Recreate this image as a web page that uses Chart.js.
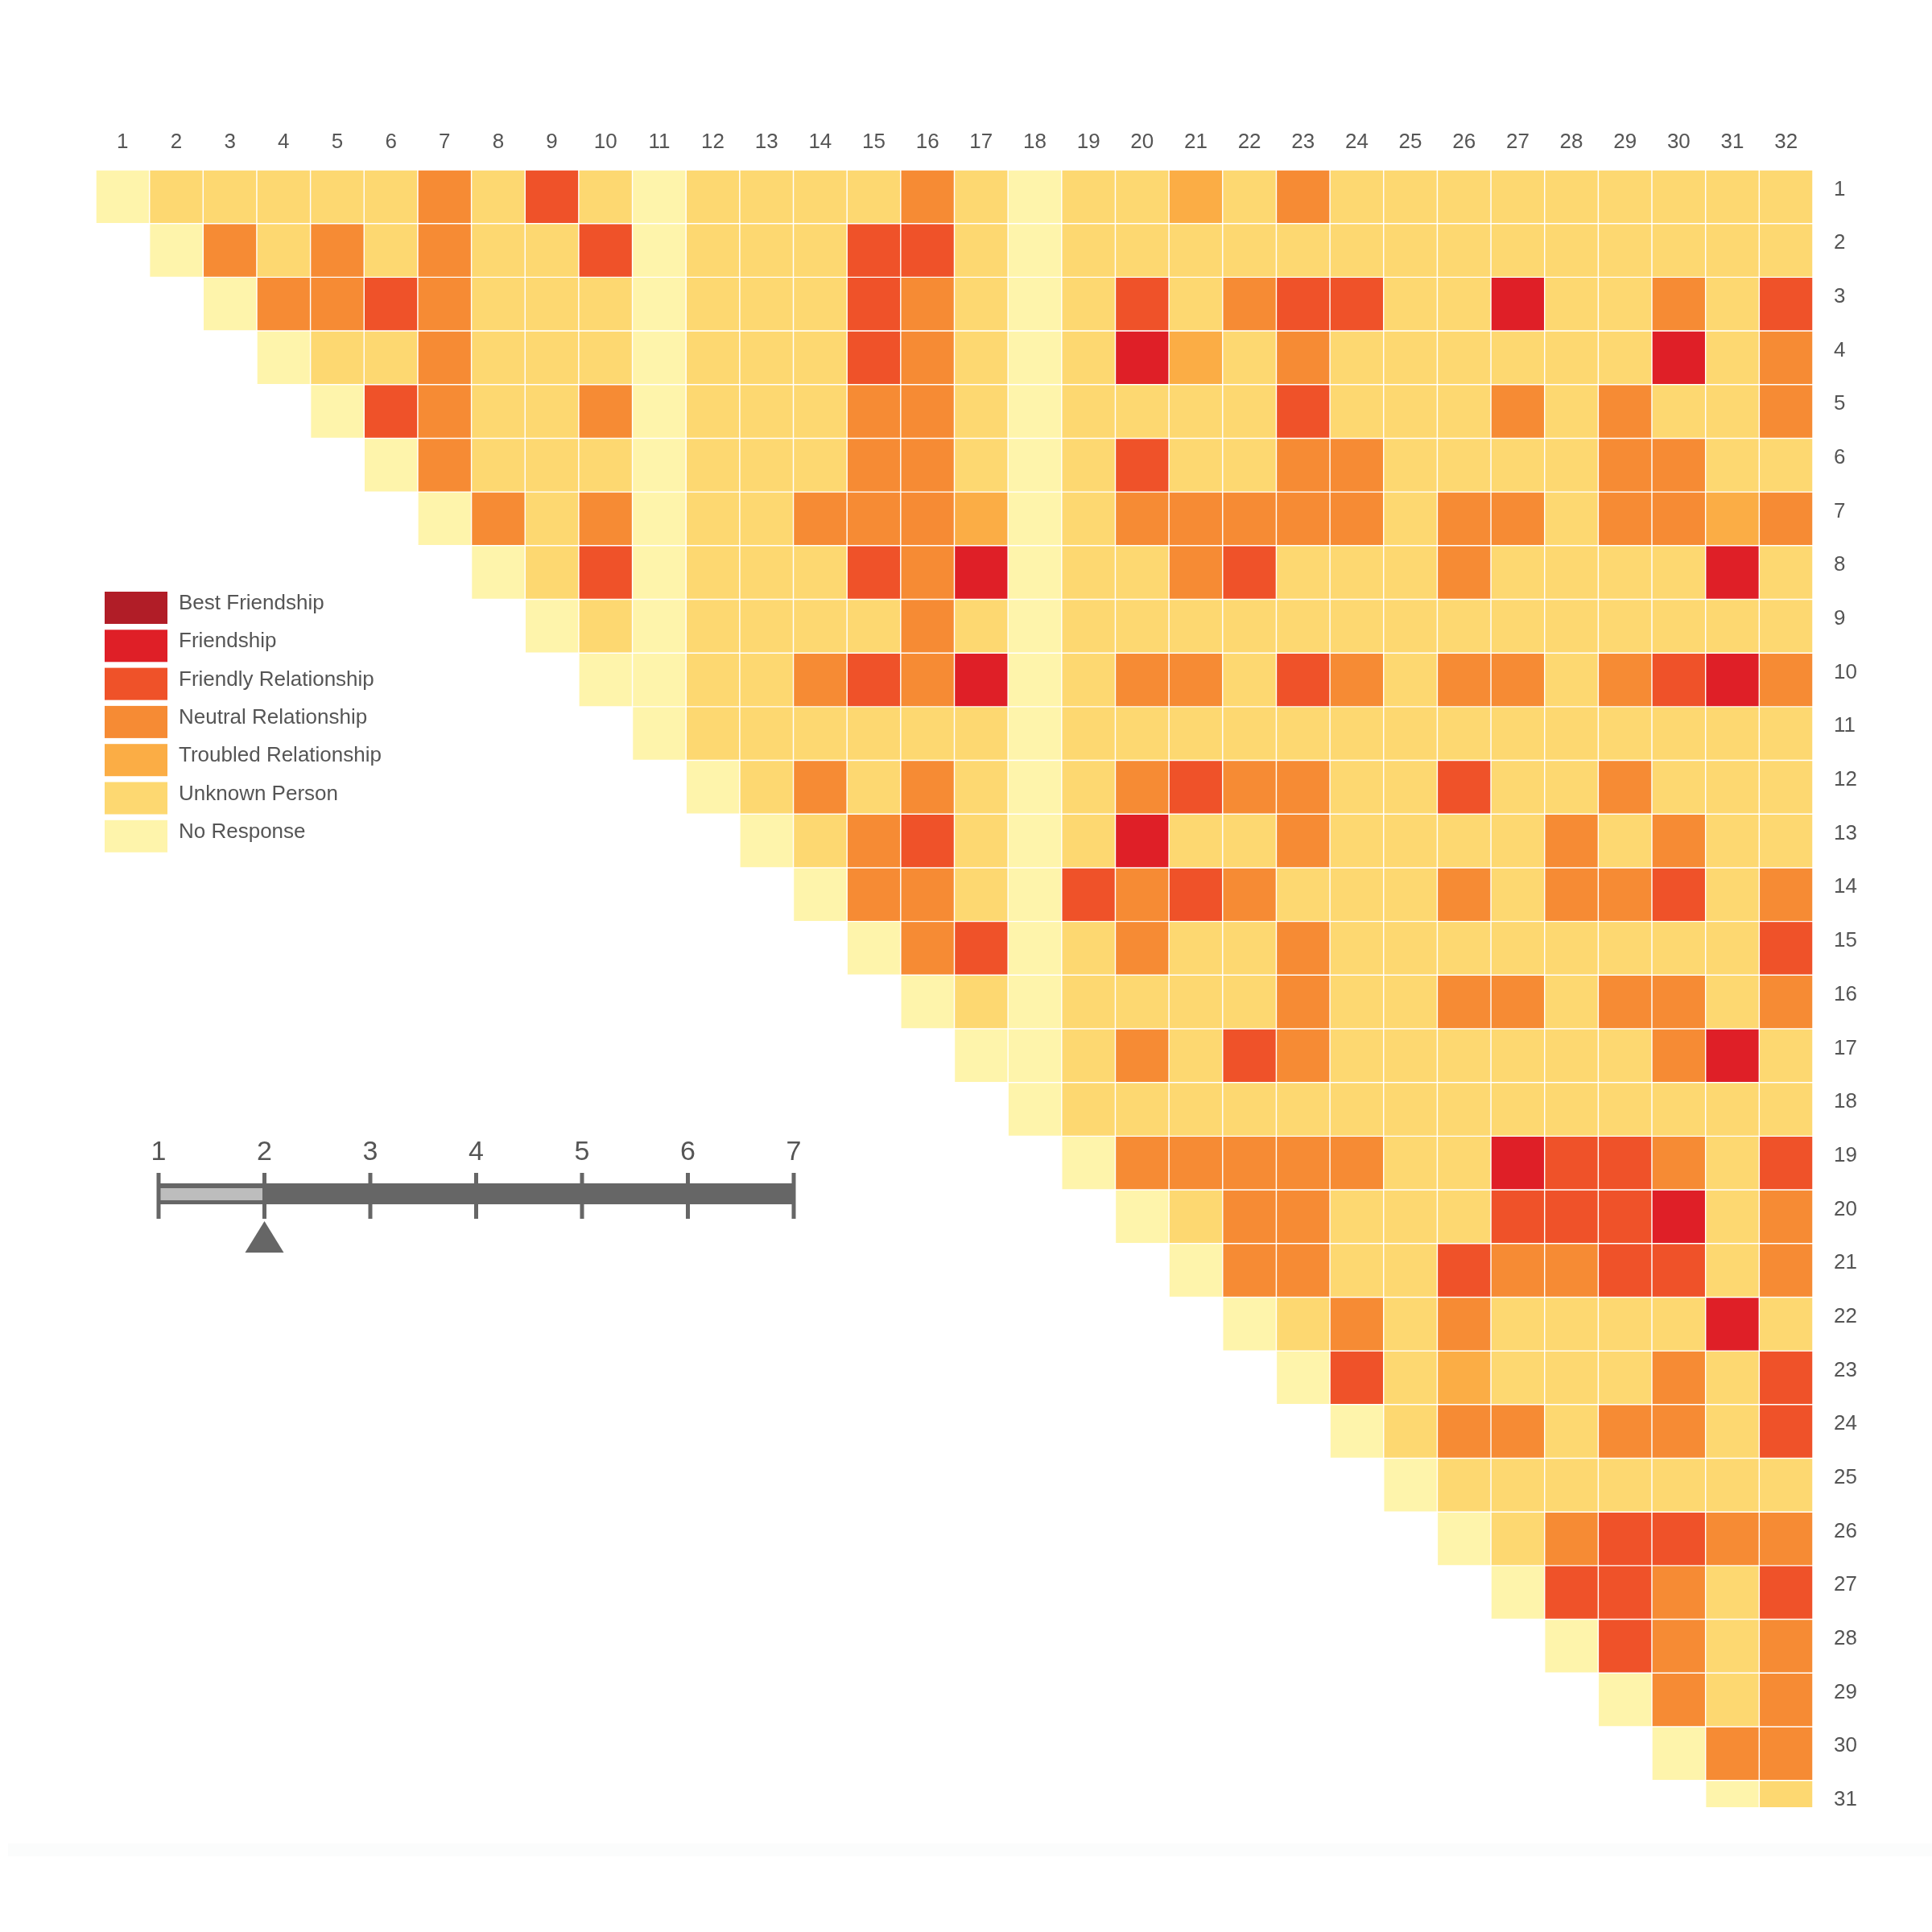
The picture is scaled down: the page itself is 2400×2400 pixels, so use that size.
<!DOCTYPE html>
<html>
<head>
<meta charset="utf-8">
<script src="https://cdn.jsdelivr.net/npm/chart.js@4/dist/chart.umd.min.js"></script>
<style>
  html, body { margin: 0; padding: 0; background: #ffffff; }
  #wrap { width: 2400px; height: 2400px; position: relative; }
</style>
</head>
<body>
<div id="wrap"><canvas id="c" width="2400" height="2400"></canvas></div>
<script>
// ---------------- DATA ----------------
const columnLabels = ['1','2','3','4','5','6','7','8','9','10','11','12','13','14','15','16',
                      '17','18','19','20','21','22','23','24','25','26','27','28','29','30','31','32'];
const rowLabels = ['1','2','3','4','5','6','7','8','9','10','11','12','13','14','15','16',
                   '17','18','19','20','21','22','23','24','25','26','27','28','29','30','31'];

// relationship level names (code 1..7) and their colours
const levelNames = ['No Response', 'Unknown Person', 'Troubled Relationship', 'Neutral Relationship',
                    'Friendly Relationship', 'Friendship', 'Best Friendship'];
const levelColors = ['#fef4ab', '#fdd871', '#fbad45', '#f68b34', '#ef5229', '#df1f27', '#b11d27'];
const legendOrder = [7, 6, 5, 4, 3, 2, 1];

// each row r lists codes for columns r..32
const relationRows = [
  [1,2,2,2,2,2,4,2,5,2, 1,2,2,2,2,4,2,1,2,2, 3,2,4,2,2,2,2,2,2,2,2,2],
  [1,4,2,4,2,4,2,2,5, 1,2,2,2,5,5,2,1,2,2, 2,2,2,2,2,2,2,2,2,2,2,2],
  [1,4,4,5,4,2,2,2, 1,2,2,2,5,4,2,1,2,5, 2,4,5,5,2,2,6,2,2,4,2,5],
  [1,2,2,4,2,2,2, 1,2,2,2,5,4,2,1,2,6, 3,2,4,2,2,2,2,2,2,6,2,4],
  [1,5,4,2,2,4, 1,2,2,2,4,4,2,1,2,2, 2,2,5,2,2,2,4,2,4,2,2,4],
  [1,4,2,2,2, 1,2,2,2,4,4,2,1,2,5, 2,2,4,4,2,2,2,2,4,4,2,2],
  [1,4,2,4, 1,2,2,4,4,4,3,1,2,4, 4,4,4,4,2,4,4,2,4,4,3,4],
  [1,2,5, 1,2,2,2,5,4,6,1,2,2, 4,5,2,2,2,4,2,2,2,2,6,2],
  [1,2, 1,2,2,2,2,4,2,1,2,2, 2,2,2,2,2,2,2,2,2,2,2,2],
  [1, 1,2,2,4,5,4,6,1,2,4, 4,2,5,4,2,4,4,2,4,5,6,4],
  [1,2,2,2,2,2,2,1,2,2, 2,2,2,2,2,2,2,2,2,2,2,2],
  [1,2,4,2,4,2,1,2,4, 5,4,4,2,2,5,2,2,4,2,2,2],
  [1,2,4,5,2,1,2,6, 2,2,4,2,2,2,2,4,2,4,2,2],
  [1,4,4,2,1,5,4, 5,4,2,2,2,4,2,4,4,5,2,4],
  [1,4,5,1,2,4, 2,2,4,2,2,2,2,2,2,2,2,5],
  [1,2,1,2,2, 2,2,4,2,2,4,4,2,4,4,2,4],
  [1,1,2,4, 2,5,4,2,2,2,2,2,2,4,6,2],
  [1,2,2, 2,2,2,2,2,2,2,2,2,2,2,2],
  [1,4, 4,4,4,4,2,2,6,5,5,4,2,5],
  [1, 2,4,4,2,2,2,5,5,5,6,2,4],
  [1,4,4,2,2,5,4,4,5,5,2,4],
  [1,2,4,2,4,2,2,2,2,6,2],
  [1,5,2,3,2,2,2,4,2,5],
  [1,2,4,4,2,4,4,2,5],
  [1,2,2,2,2,2,2,2],
  [1,2,4,5,5,4,4],
  [1,5,5,4,2,5],
  [1,5,4,2,4],
  [1,4,2,4],
  [1,4,4],
  [1,2]
];

// slider widget
const sliderLabels = ['1','2','3','4','5','6','7'];
const sliderValue = 2;

// ---------------- CHART ----------------
const FONT = '"Liberation Sans", Helvetica, Arial, sans-serif';
const TEXT = '#555555';

const datasets = relationRows.map((vals, i) => {
  const r = i + 1;
  const data = columnLabels.map((_, c) => (c + 1 >= r ? [r - 0.5, r + 0.5] : null));
  const colors = columnLabels.map((_, c) => (c + 1 >= r ? levelColors[vals[c + 1 - r] - 1] : 'rgba(0,0,0,0)'));
  return {
    label: 'Row ' + rowLabels[i],
    data: data,
    backgroundColor: colors,
    borderColor: '#ffffff',
    borderWidth: 1.05,
    borderSkipped: false,
    grouped: false,
    barPercentage: 1,
    categoryPercentage: 1,
    clip: 0
  };
});

const decorPlugin = {
  id: 'decor',
  afterDraw(chart) {
    const ctx = chart.ctx;
    ctx.save();
    // legend
    legendOrder.forEach((code, i) => {
      const y = 735 + i * 47.3;
      ctx.fillStyle = levelColors[code - 1];
      ctx.fillRect(130, y, 78, 40);
      ctx.fillStyle = TEXT;
      ctx.font = '26px ' + FONT;
      ctx.textAlign = 'left';
      ctx.textBaseline = 'middle';
      ctx.fillText(levelNames[code - 1], 222, y + 15);
    });

    // slider
    const x0 = 197, step = 131.5;
    const xOf = v => x0 + (v - 1) * step;
    const xEnd = xOf(sliderLabels.length);
    ctx.fillStyle = '#666666';
    ctx.fillRect(x0, 1470, xEnd - x0, 26);
    ctx.fillStyle = '#bdbdbd';
    ctx.fillRect(x0 + 2, 1476, xOf(sliderValue) - x0 - 2, 15);
    ctx.fillStyle = '#666666';
    sliderLabels.forEach((lab, i) => {
      const x = xOf(i + 1);
      ctx.fillRect(x - 2.5, 1457, 5, 57);
    });
    ctx.fillStyle = TEXT;
    ctx.font = '34px ' + FONT;
    ctx.textAlign = 'center';
    ctx.textBaseline = 'middle';
    sliderLabels.forEach((lab, i) => ctx.fillText(lab, xOf(i + 1), 1432));
    // pointer
    const px = xOf(sliderValue);
    ctx.fillStyle = '#666666';
    ctx.beginPath();
    ctx.moveTo(px, 1517);
    ctx.lineTo(px + 24, 1556);
    ctx.lineTo(px - 24, 1556);
    ctx.closePath();
    ctx.fill();

    // faint bottom band
    ctx.fillStyle = 'rgba(235,240,240,0.22)';
    ctx.fillRect(10, 2290, 2390, 16);
    ctx.restore();
  }
};

new Chart(document.getElementById('c'), {
  type: 'bar',
  data: { labels: columnLabels, datasets: datasets },
  options: {
    responsive: false,
    animation: false,
    devicePixelRatio: 1,
    layout: { padding: { left: 119, top: 131, right: 68, bottom: 155 } },
    plugins: { legend: { display: false }, tooltip: { enabled: false } },
    scales: {
      x: {
        type: 'category',
        position: 'top',
        offset: true,
        grid: { display: false, drawTicks: false },
        border: { display: false },
        ticks: { color: TEXT, font: { family: FONT, size: 26 }, padding: 19, maxRotation: 0, autoSkip: false },
        afterFit(s) { s.height = 80; s.paddingLeft = 0; s.paddingRight = 0; }
      },
      y: {
        type: 'linear',
        position: 'right',
        reverse: true,
        min: 0.5,
        max: 31,
        grid: { display: false, drawTicks: false },
        border: { display: false },
        afterBuildTicks(s) { s.ticks = rowLabels.map(v => ({ value: Number(v) })); },
        ticks: {
          color: TEXT, font: { family: FONT, size: 26 }, padding: 26, labelOffset: -9,
          callback: (v, idx) => rowLabels[idx]
        },
        afterFit(s) { s.width = 80; s.paddingTop = 0; s.paddingBottom = 0; }
      }
    }
  },
  plugins: [decorPlugin]
});
</script>
</body>
</html>
